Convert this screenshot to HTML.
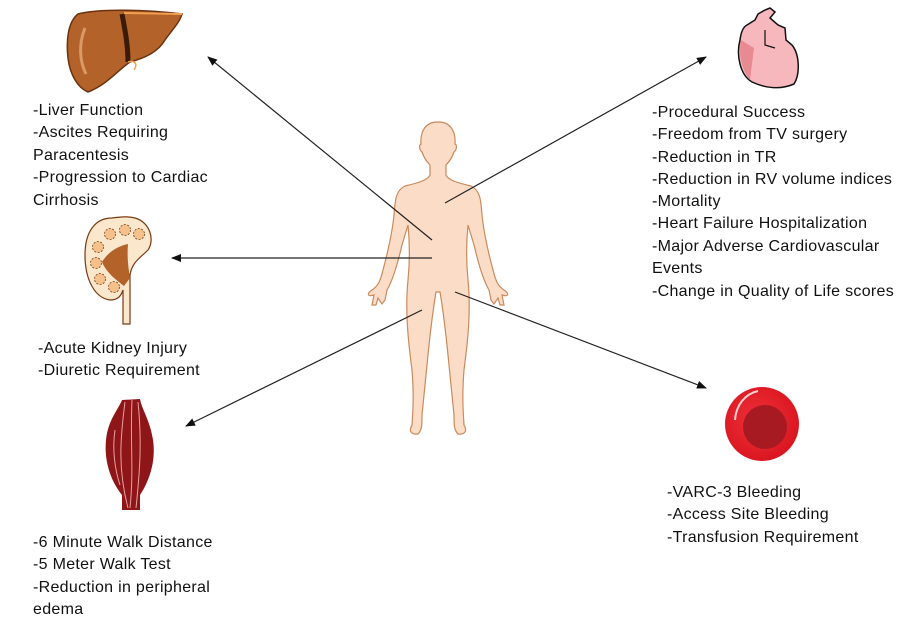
<!DOCTYPE html>
<html><head><meta charset="utf-8"><style>
html,body{margin:0;padding:0;background:#fff;}
svg{display:block}
text{font-family:"Liberation Sans",sans-serif;font-size:16px;letter-spacing:0.3px;fill:#111;}
</style></head><body>
<svg width="900" height="622" viewBox="0 0 900 622" xmlns="http://www.w3.org/2000/svg">
<defs>
<marker id="ah" markerWidth="10" markerHeight="8" refX="9" refY="4" orient="auto" markerUnits="userSpaceOnUse">
<path d="M0,0 L10,4 L0,8 z" fill="#111"/>
</marker>
<radialGradient id="rbc" cx="0.45" cy="0.45" r="0.6">
<stop offset="0" stop-color="#f0323a"/><stop offset="1" stop-color="#d8141e"/>
</radialGradient>
</defs>

<!-- body -->
<path d="M437,122 C426,122 420,131 421,144 C419,144 419,150 422,152 C424,158 428,163 430,165 L430,175 C428,180 418,183 405,186 C396,190 395,200 394,215 C392,235 387,255 383,270 C380,282 378,286 372,290 C366,294 368,297 374,295 L372,305 L376,305 L378,298 L382,304 L385,300 L387,290 C393,280 398,262 402,245 L408,225 C410,245 410,260 408,280 C405,310 408,340 412,370 C414,395 413,410 412,425 C409,430 410,435 418,434 C422,430 422,425 422,415 C424,395 426,375 428,355 C430,335 433,310 436,292 L440,292 C443,310 446,335 448,355 C450,375 452,395 454,415 C454,425 454,430 458,434 C466,435 467,430 464,425 C463,410 462,395 464,370 C468,340 471,310 468,280 C466,260 466,245 468,225 L474,245 C478,262 483,280 489,290 L491,300 L494,304 L498,298 L500,305 L504,305 L502,295 C508,297 510,294 504,290 C498,286 496,282 493,270 C489,255 484,235 482,215 C481,200 480,190 471,186 C458,183 448,180 446,175 L446,165 C448,163 452,158 454,152 C457,150 457,144 455,144 C456,131 450,122 439,122 Z" fill="#fbdcc7" stroke="#c98a5c" stroke-width="1.2"/>

<!-- arrows -->
<g stroke="#222" stroke-width="1.2" fill="none" marker-end="url(#ah)">
<line x1="432" y1="240" x2="208" y2="57"/>
<line x1="432" y1="258" x2="172" y2="258"/>
<line x1="422" y1="310" x2="186" y2="426"/>
<line x1="445" y1="203" x2="706" y2="57"/>
<line x1="455" y1="292" x2="706" y2="388"/>
</g>

<!-- liver -->
<path d="M78,14 C100,8 150,10 182,14 C180,22 172,30 165,40 C158,52 145,58 130,62 C118,70 108,84 88,92 C78,88 70,75 68,58 C66,40 68,22 78,14 Z" fill="#b3622a" stroke="#6b3210" stroke-width="1.5"/>
<path d="M122,14 C125,30 128,45 128,62" stroke="#3a1a08" stroke-width="5" fill="none"/>
<path d="M85,28 C78,45 80,62 86,74" stroke="#f2c090" stroke-width="3" fill="none" opacity="0.6"/>
<path d="M124,13 L182,14" stroke="#f0a050" stroke-width="2"/>
<path d="M128,62 C135,60 138,64 134,70" stroke="#f0a050" stroke-width="1.5" fill="none"/>

<!-- kidney -->
<path d="M112,218 C95,218 85,232 85,255 C85,280 95,298 110,300 C118,300 121,296 123,290 L123,324 L130,324 L130,275 C132,262 140,258 148,250 C155,240 150,222 135,218 C128,216 120,217 112,218 Z" fill="#fbe8cc" stroke="#7a3a14" stroke-width="1.2"/>
<path d="M102,262 C108,252 118,246 128,244 C127,256 128,266 130,278 L124,286 C116,280 106,272 102,262 Z" fill="#b3622a"/>
<g fill="#f5c08a" stroke="#7a3a14" stroke-width="0.8" stroke-dasharray="2,1.5">
<circle cx="110" cy="234" r="5.5"/><circle cx="125" cy="230" r="5.5"/><circle cx="139" cy="234" r="5.5"/><circle cx="98" cy="247" r="5.5"/><circle cx="96" cy="263" r="5.5"/><circle cx="100" cy="279" r="5.5"/><circle cx="114" cy="287" r="5.5"/>
</g>

<!-- muscle -->
<path d="M122,400 L140,399 C142,410 150,420 153,440 C156,460 150,480 140,495 L140,510 L122,510 L122,495 C110,480 104,460 106,440 C108,420 118,410 122,400 Z" fill="#8e1518"/>
<g stroke="#e9a0a0" stroke-width="1" fill="none">
<path d="M125,402 C120,440 118,470 128,508"/><path d="M132,400 C130,440 134,470 130,508"/><path d="M138,402 C142,440 140,470 136,508"/><path d="M115,430 C112,450 115,470 120,485"/>
</g>

<!-- heart -->
<path d="M747,25 L755,20 L758,14 L765,10 L770,8 L775,12 L770,18 L778,25 L785,28 L786,40 L792,45 C800,55 800,75 794,84 C780,90 765,88 752,82 C740,75 736,55 740,40 C741,32 743,27 747,25 Z" fill="#f6b8bc" stroke="#111" stroke-width="1.5"/>
<path d="M741,40 C738,55 742,70 750,80 L754,48 Z" fill="#e88a92"/>
<path d="M765,30 L765,45 L775,48" stroke="#111" stroke-width="1.2" fill="none"/>

<!-- RBC -->
<circle cx="762" cy="424" r="37" fill="url(#rbc)"/>
<circle cx="765" cy="427" r="22" fill="#a81a22"/>
<path d="M735,420 C736,405 745,394 758,391" stroke="#ffd0d0" stroke-width="2" fill="none"/>

<!-- texts -->
<text x="33" y="115">-Liver Function</text>
<text x="33" y="137">-Ascites Requiring</text>
<text x="33" y="160">Paracentesis</text>
<text x="33" y="182">-Progression to Cardiac</text>
<text x="33" y="205">Cirrhosis</text>

<text x="38" y="353">-Acute Kidney Injury</text>
<text x="38" y="375">-Diuretic Requirement</text>

<text x="33" y="547">-6 Minute Walk Distance</text>
<text x="33" y="569">-5 Meter Walk Test</text>
<text x="33" y="592">-Reduction in peripheral</text>
<text x="33" y="614">edema</text>

<text x="652" y="117">-Procedural Success</text>
<text x="652" y="139">-Freedom from TV surgery</text>
<text x="652" y="162">-Reduction in TR</text>
<text x="652" y="184">-Reduction in RV volume indices</text>
<text x="652" y="206">-Mortality</text>
<text x="652" y="228">-Heart Failure Hospitalization</text>
<text x="652" y="251">-Major Adverse Cardiovascular</text>
<text x="652" y="273">Events</text>
<text x="652" y="296">-Change in Quality of Life scores</text>

<text x="667" y="497">-VARC-3 Bleeding</text>
<text x="667" y="519">-Access Site Bleeding</text>
<text x="667" y="542">-Transfusion Requirement</text>
</svg>
</body></html>
